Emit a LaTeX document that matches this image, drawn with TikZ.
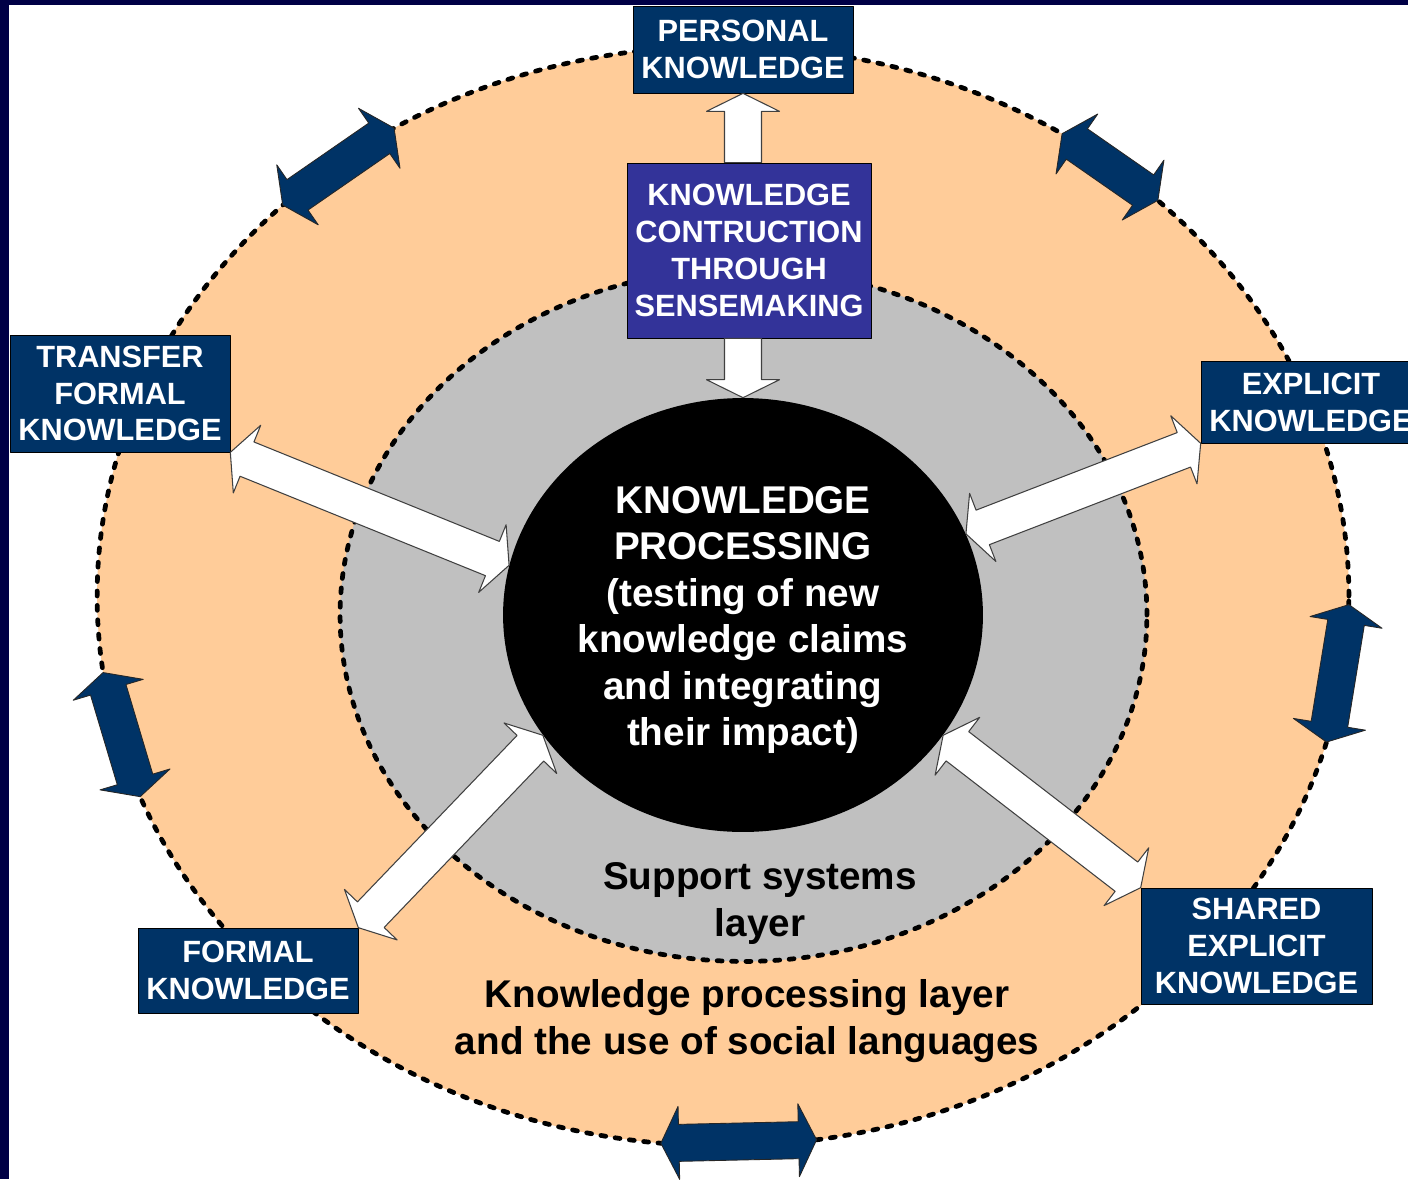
\documentclass[tikz,border=0pt]{standalone}
\usepackage{fontspec}
\setmainfont{Liberation Sans}
\usetikzlibrary{calc,shapes.geometric}
\definecolor{navybox}{RGB}{0,51,102}
\definecolor{sensebox}{RGB}{51,51,153}
\definecolor{ringfill}{RGB}{255,204,153}
\definecolor{supportfill}{RGB}{192,192,192}
\definecolor{slideblue}{RGB}{0,0,70}
\newcommand{\kpfont}{\fontsize{22}{26.5}\selectfont\bfseries}
\newcommand{\kboxfont}{\fontsize{17.5}{21}\selectfont\bfseries}
\newcommand{\fatdbl}[3][]{%
\coordinate (arwA) at (#2);
\coordinate (arwB) at (#3);
\coordinate (arwP) at ($(arwA)!0.36cm!(arwB)$);
\coordinate (arwQ) at ($(arwB)!0.36cm!(arwA)$);
\filldraw[#1] (arwA) -- ($(arwP)!0.73cm!90:(arwB)$) -- ($(arwP)!0.37cm!90:(arwB)$) -- ($(arwQ)!0.37cm!-90:(arwA)$) -- ($(arwQ)!0.73cm!-90:(arwA)$) -- (arwB) -- ($(arwQ)!0.73cm!90:(arwA)$) -- ($(arwQ)!0.37cm!90:(arwA)$) -- ($(arwP)!0.37cm!-90:(arwB)$) -- ($(arwP)!0.73cm!-90:(arwB)$) -- cycle;}
\newcommand{\fatone}[3][]{%
\coordinate (arwA) at (#2);
\coordinate (arwB) at (#3);
\coordinate (arwQ) at ($(arwB)!0.36cm!(arwA)$);
\filldraw[#1] ($(arwA)!0.37cm!90:(arwB)$) -- ($(arwQ)!0.37cm!-90:(arwA)$) -- ($(arwQ)!0.73cm!-90:(arwA)$) -- (arwB) -- ($(arwQ)!0.73cm!90:(arwA)$) -- ($(arwQ)!0.37cm!90:(arwA)$) -- ($(arwA)!0.37cm!-90:(arwB)$) -- cycle;}
\begin{document}
\begin{tikzpicture}[x=0.02cm,y=-0.02cm,line join=round,
  dotline/.style={draw=black,line width=2.7pt,line cap=round,dash pattern=on 2.8pt off 5.4pt},
  kbox/.style={draw=black,fill=navybox,text=white,align=center,inner sep=0pt,minimum width=4.4cm,font=\kboxfont},
  whitearrow/.style={fill=white,draw=black!75,line width=0.6pt},
  navyarrow/.style={fill=navybox,draw=black!85,line width=0.5pt}]
\useasboundingbox (0,0) rectangle (1408,1179);
\clip (0,0) rectangle (1408,1179);
\fill[slideblue] (0,0) rectangle (1408,1179);
\fill[white] (9,5) rectangle (1408,1179);
\node[ellipse,dotline,fill=ringfill,minimum width=25.04cm,minimum height=22cm,inner sep=0pt] (ring) at (723,596) {};
\node[ellipse,dotline,fill=supportfill,minimum width=16.14cm,minimum height=13.86cm,inner sep=0pt] (support) at (743.5,615) {};
\node[ellipse,fill=black,minimum width=9.6cm,minimum height=8.68cm,inner sep=0pt,
  label={[name=kptext,text=white,align=center,font=\kpfont,yshift=-0.1cm]center:KNOWLEDGE\\PROCESSING\\(testing of new\\knowledge claims\\and integrating\\their impact)}] (kp) at (743,615) {};
\node[kbox,minimum height=1.74cm] (personal) at (743,49.5) {PERSONAL\\KNOWLEDGE};
\node[kbox,fill=sensebox,minimum width=4.88cm,minimum height=3.5cm] (kc) at (749,250.5) {KNOWLEDGE\\CONTRUCTION\\THROUGH\\SENSEMAKING};
\node[kbox,minimum height=2.34cm] (transfer) at (120,393.5) {TRANSFER\\FORMAL\\KNOWLEDGE};
\node[kbox,minimum height=1.64cm] (explicit) at (1311,402) {EXPLICIT\\KNOWLEDGE};
\node[kbox,minimum width=4.62cm,minimum height=2.32cm] (shared) at (1256.5,946) {SHARED\\EXPLICIT\\KNOWLEDGE};
\node[kbox,minimum height=1.7cm] (formal) at (248,970.5) {FORMAL\\KNOWLEDGE};
\node[align=center,font=\kpfont] (supportlabel) at (760,903.5) {Support systems\\layer};
\node[align=center,font=\kpfont] (layerlabel) at (747,1021) {Knowledge processing layer\\and the use of social languages};
\fatone[whitearrow]{personal.south |- kc.north}{personal.south}
\fatone[whitearrow]{personal.south |- kc.south}{kp.north}
\fatdbl[whitearrow]{transfer.south east}{kp.168}
\fatdbl[whitearrow]{explicit.south west}{kp.20}
\fatdbl[whitearrow]{formal.north east}{kp.211}
\fatdbl[whitearrow]{shared.north west}{kp.329}
\foreach \ta/\tb in {225.3/238.3,302.8/314,0.9/15.4,172/158.6,95.7/81.4}
  {\fatdbl[navyarrow]{$(ring.center)+(\ta:626 and 550)$}{$(ring.center)+(\tb:626 and 550)$}}
\end{tikzpicture}
\end{document}
